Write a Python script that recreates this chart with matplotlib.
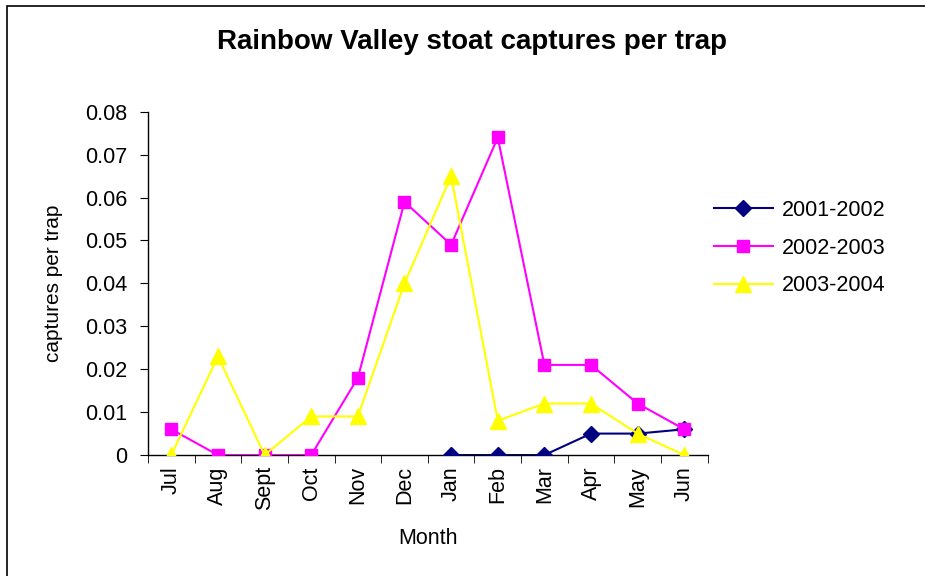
import numpy as np
import matplotlib
matplotlib.use("Agg")
import matplotlib.pyplot as plt
from matplotlib.patches import Rectangle

# Data ---------------------------------------------------------
months = ["Jul", "Aug", "Sept", "Oct", "Nov", "Dec", "Jan", "Feb", "Mar", "Apr", "May", "Jun"]
nan = np.nan
captures_2001_2002 = [nan, nan, nan, nan, nan, nan, 0.0, 0.0, 0.0, 0.005, 0.005, 0.006]
captures_2002_2003 = [0.006, 0.0, 0.0, 0.0, 0.018, 0.059, 0.049, 0.074, 0.021, 0.021, 0.012, 0.006]
captures_2003_2004 = [0.0, 0.023, 0.0, 0.009, 0.009, 0.040, 0.065, 0.008, 0.012, 0.012, 0.005, 0.0]
yticks = [0, 0.01, 0.02, 0.03, 0.04, 0.05, 0.06, 0.07, 0.08]
ytick_labels = ["0", "0.01", "0.02", "0.03", "0.04", "0.05", "0.06", "0.07", "0.08"]

plt.rcParams["font.family"] = ["Liberation Sans", "DejaVu Sans"]

fig = plt.figure(figsize=(9.25, 5.76), dpi=100)
ax = fig.add_axes([0.160, 0.210, 0.605, 0.596])

# Chart border (Excel chart area)
fig.patches.append(Rectangle((0.008, -0.05), 1.05, 1.04, transform=fig.transFigure,
                             fill=False, edgecolor="black", linewidth=1.2))

x = np.arange(len(months))
ax.plot(x, captures_2001_2002, color="#000080", marker="D", markersize=8, linewidth=1.5,
        label="2001-2002")
ax.plot(x, captures_2002_2003, color="#FF00FF", marker="s", markersize=9, linewidth=1.5,
        label="2002-2003")
ax.plot(x, captures_2003_2004, color="#FFFF00", marker="^", markersize=11, linewidth=1.5,
        label="2003-2004")

ax.set_xlim(-0.5, len(months) - 0.5)
ax.set_ylim(0, 0.08)
ax.set_yticks(yticks)
ax.set_yticklabels(ytick_labels, fontsize=15.5)

# Category labels at centres, tick marks on boundaries
ax.set_xticks(x)
ax.set_xticklabels(months, rotation=90, fontsize=15.5)
ax.tick_params(axis="x", which="major", length=0, pad=8)
ax.set_xticks(np.arange(-0.5, len(months)), minor=True)
ax.tick_params(axis="x", which="minor", length=6, direction="out")
ax.tick_params(axis="y", length=6, direction="out", pad=9)

for side in ["top", "right"]:
    ax.spines[side].set_visible(False)
for side in ["left", "bottom"]:
    ax.spines[side].set_linewidth(1.0)
ax.spines["bottom"].set_zorder(0)

ax.set_xlabel("Month", fontsize=15.5, labelpad=13)
ax.set_ylabel("captures per trap", fontsize=15, labelpad=16)
fig.suptitle("Rainbow Valley stoat captures per trap", fontsize=20, fontweight="bold",
             x=0.51, y=0.95)

ax.legend(loc="upper left", bbox_to_anchor=(0.976, 0.80), frameon=False, fontsize=15.5,
          handlelength=2.75, labelspacing=0.78, handletextpad=0.4)

fig.savefig("out.png", dpi=100)
